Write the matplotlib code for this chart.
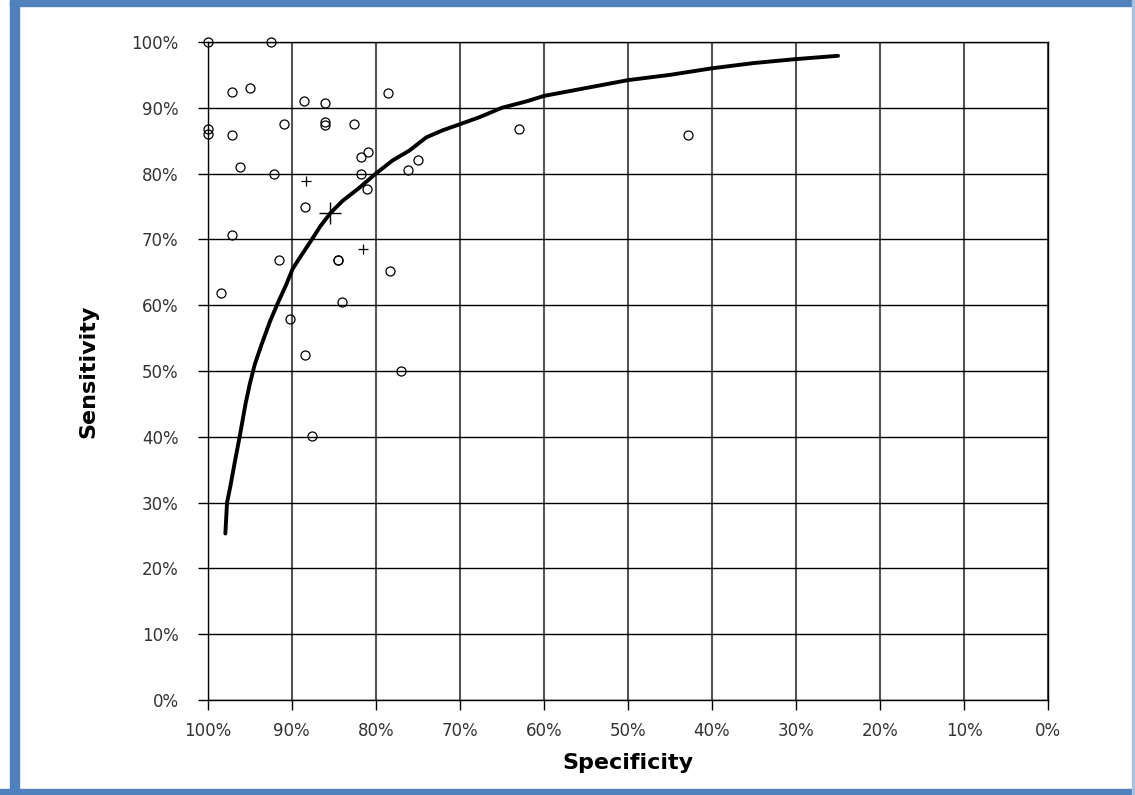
import numpy as np
import matplotlib
matplotlib.use('Agg')
from matplotlib import pyplot as plt
from matplotlib import patches
from matplotlib.ticker import FuncFormatter

# study estimates (specificity %, sensitivity %)
study_spec = [100, 92.5, 97.1, 95.0, 88.6, 86.0, 78.5, 100, 100, 97.1,
              90.9, 86.0, 86.0, 82.6, 80.9, 81.8, 96.1, 92.1, 81.8, 81.0,
              76.2, 75.0, 88.4, 97.1, 91.5, 84.5, 84.5, 78.3, 98.4, 84.0,
              90.2, 88.4, 77.0, 87.6, 63.0, 42.9]
study_sens = [100, 100, 92.4, 93.0, 91.0, 90.8, 92.3, 86.7, 86.0, 85.9,
              87.5, 87.9, 87.4, 87.6, 83.3, 82.5, 81.0, 80.0, 80.0, 77.7,
              80.5, 82.0, 74.9, 70.7, 66.9, 66.9, 66.9, 65.2, 61.8, 60.5,
              57.9, 52.4, 50.0, 40.1, 86.8, 85.9]

# plus markers
plus_spec = [88.3, 81.5]
plus_sens = [78.8, 68.6]
summary_spec = [85.4]
summary_sens = [74.0]

# SROC curve
curve_spec = [97.9, 97.7, 97.3, 96.8, 96.2, 95.5, 95.0, 94.4, 93.6, 92.6,
              91.6, 90.7, 89.9, 88.9, 87.6, 86.6, 85.4, 84.0, 82.0, 80.0,
              78.0, 76.0, 74.0, 72.0, 70.0, 67.6, 65.0, 62.0, 60.0, 55.0,
              50.0, 45.0, 40.0, 35.0, 30.0, 25.0]
curve_sens = [25.3, 30.0, 32.5, 36.0, 40.0, 45.0, 48.0, 51.0, 54.0, 57.5,
              60.5, 63.0, 65.5, 67.5, 70.0, 72.0, 74.0, 75.8, 77.8, 80.0,
              82.0, 83.5, 85.5, 86.6, 87.5, 88.6, 90.0, 91.0, 91.8, 93.0,
              94.2, 95.0, 96.0, 96.8, 97.4, 97.9]

ticks = list(range(0, 101, 10))

plt.rcParams['font.family'] = ['DejaVu Sans']

fig = plt.figure(figsize=(11.35, 7.95), dpi=100)
ax = fig.add_axes([0.183, 0.1195, 0.7405, 0.8277])

ax.plot(curve_spec, curve_sens, color='black', lw=2.8, solid_capstyle='round', zorder=3)
ax.plot(study_spec, study_sens, 'o', ms=6.5, mfc='none', mec='black', mew=0.9,
        clip_on=False, zorder=4)
ax.plot(plus_spec, plus_sens, '+', ms=7, color='black', mew=0.9, zorder=4)
ax.plot(summary_spec, summary_sens, '+', ms=16, color='black', mew=1.0, zorder=4)

ax.set_xlim(100, 0)
ax.set_ylim(0, 100)
ax.set_xticks(ticks)
ax.set_yticks(ticks)
pct = FuncFormatter(lambda v, p: '{:d}%'.format(int(round(v))))
ax.xaxis.set_major_formatter(pct)
ax.yaxis.set_major_formatter(pct)
ax.tick_params(axis='both', direction='out', length=7, width=1, color='black',
               labelsize=12, labelcolor='#333333')
ax.tick_params(axis='y', pad=14)
ax.tick_params(axis='x', pad=9)

ax.xaxis.grid(True, color='#555555', lw=1.5)
ax.yaxis.grid(True, color='black', lw=1.0)
ax.set_axisbelow(True)
for s in ax.spines.values():
    s.set_color('black')
    s.set_linewidth(1.0)

ax.set_xlabel('Specificity', fontsize=16, fontweight='bold', va='center')
ax.xaxis.set_label_coords(0.5, -0.0957)
ax.set_ylabel('Sensitivity', fontsize=16, fontweight='bold', va='center')
ax.yaxis.set_label_coords(-0.1425, 0.5)

# blue frame around the picture
blue = '#4f81bd'
fig.patches.append(patches.Rectangle((10 / 1135, 0), 9 / 1135, 1, color=blue,
                                     transform=fig.transFigure, zorder=0))
fig.patches.append(patches.Rectangle((10 / 1135, 1 - 6 / 795), 1, 6 / 795, color=blue,
                                     transform=fig.transFigure, zorder=0))
fig.patches.append(patches.Rectangle((0, 0), 1, 6 / 795, color=blue,
                                     transform=fig.transFigure, zorder=0))
fig.patches.append(patches.Rectangle((1 - 3 / 1135, 0), 3 / 1135, 1, color='#a9c1df',
                                     transform=fig.transFigure, zorder=0))

fig.savefig('out.png', dpi=100)
